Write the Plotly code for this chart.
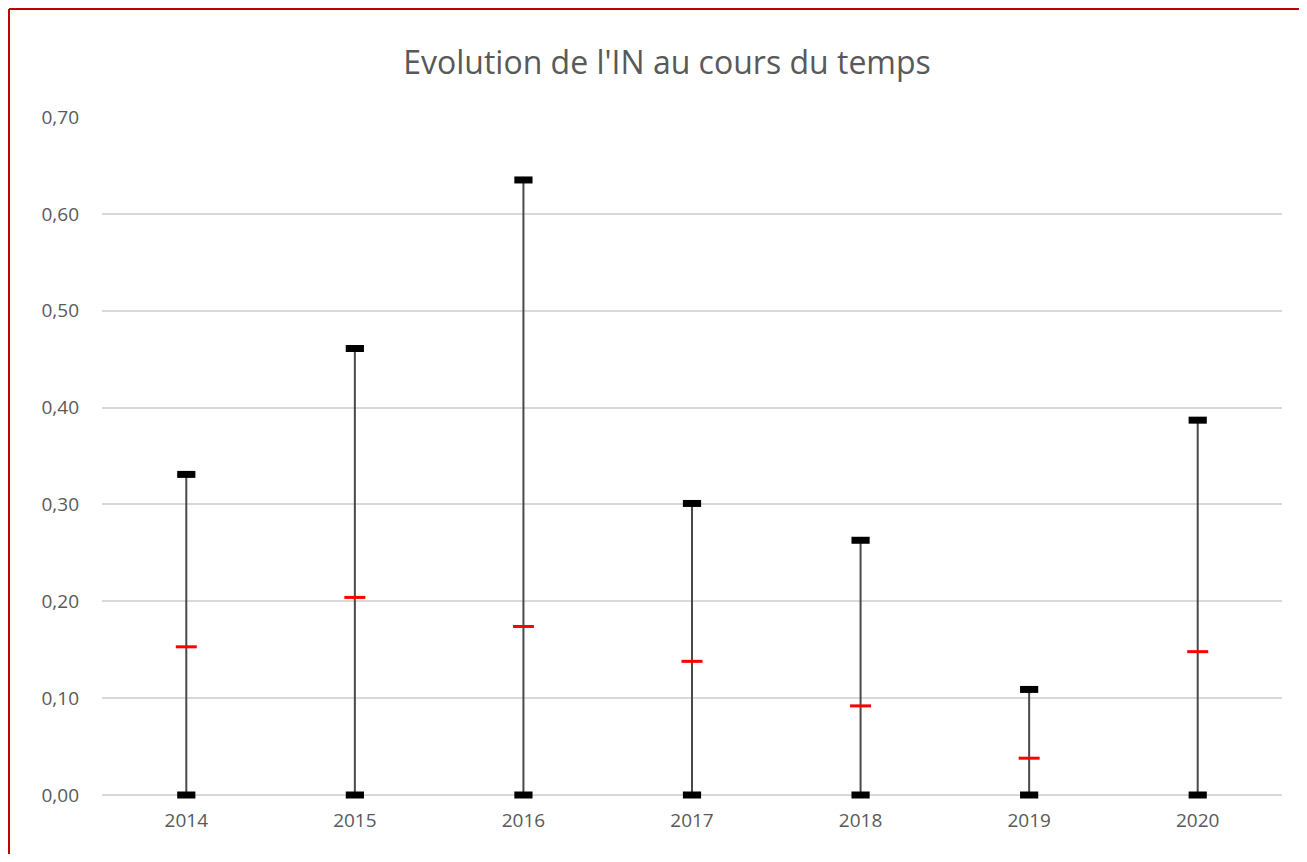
import plotly.graph_objects as go

years = ["2014", "2015", "2016", "2017", "2018", "2019", "2020"]
max_vals = [0.331, 0.461, 0.635, 0.301, 0.263, 0.109, 0.387]
mean_vals = [0.153, 0.204, 0.174, 0.138, 0.092, 0.038, 0.148]
min_vals = [0.0, 0.0, 0.0, 0.0, 0.0, 0.0, 0.0]

fig = go.Figure()

# vertical high-low lines
lx, ly = [], []
for yr, lo, hi in zip(years, min_vals, max_vals):
    lx += [yr, yr, None]
    ly += [lo, hi, None]
fig.add_trace(go.Scatter(x=lx, y=ly, mode="lines", line=dict(color="#4a4a4a", width=2),
                         hoverinfo="skip", showlegend=False, connectgaps=False))

fig.add_trace(go.Scatter(x=years, y=max_vals, mode="markers", name="Max", showlegend=False,
                         marker=dict(symbol="line-ew", size=13, line=dict(color="black", width=7))))
fig.add_trace(go.Scatter(x=years, y=min_vals, mode="markers", name="Min", showlegend=False,
                         cliponaxis=False,
                         marker=dict(symbol="line-ew", size=13, line=dict(color="black", width=7))))
fig.add_trace(go.Scatter(x=years, y=mean_vals, mode="markers", name="Moyenne", showlegend=False,
                         marker=dict(symbol="line-ew", size=15, line=dict(color="#FF0000", width=3))))

# page has an 8px body margin; figure sized/placed to compensate
W, H = 1291, 846
L, R, T, B = 94, 17, 109, 59
pw, ph = W - L - R, H - T - B
x_left = (0 - L) / pw + 1 / pw
y_top = (H - B - 1) / ph

fig.update_layout(
    width=W, height=H,
    margin=dict(l=L, r=R, t=T, b=B),
    paper_bgcolor="white", plot_bgcolor="white",
    separators=", ",
    font=dict(family="Open Sans", color="#595959"),
    title=dict(text="Evolution de l'IN au cours du temps", x=659 / W, xanchor="center",
               y=1 - 55 / H, yanchor="middle",
               font=dict(size=32, color="#595959", family="Open Sans")),
    xaxis=dict(type="category", range=[-0.5, 6.5], showgrid=False, showline=False,
               zeroline=False, ticks="", ticklabelstandoff=12,
               tickfont=dict(size=19, color="#595959")),
    yaxis=dict(range=[0, 0.7], dtick=0.1, tickformat=".2f", showgrid=True,
               gridcolor="#D9D9D9", gridwidth=1.5, zeroline=True, zerolinecolor="#D9D9D9",
               zerolinewidth=1.5, showline=False, ticks="", ticklabelstandoff=22,
               tickfont=dict(size=19, color="#595959")),
    shapes=[
        dict(type="line", xref="paper", yref="paper", x0=x_left, x1=x_left, y0=-0.2, y1=y_top,
             line=dict(color="#C00000", width=2)),
        dict(type="line", xref="paper", yref="paper", x0=x_left, x1=1.1, y0=y_top, y1=y_top,
             line=dict(color="#C00000", width=2)),
    ],
)

fig.write_html("out.html")
